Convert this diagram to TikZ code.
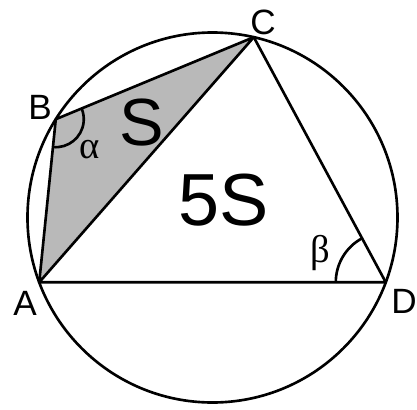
\documentclass[tikz,border=0pt]{standalone}
\usepackage{fontspec}
\setsansfont{Liberation Sans}
\newfontfamily\greekfont{Liberation Serif}
\usetikzlibrary{calc, angles}

\begin{document}
\begin{tikzpicture}[x=0.02cm, y=0.02cm,
  edge/.style={line width=1.5pt, line join=round},
  vlabel/.style={font=\fontsize{20}{20}\sffamily, inner sep=0pt},
  arealabel/.style={font=\fontsize{38}{38}\sffamily, inner sep=0pt},
  anglabel/.style={font=\fontsize{22}{22}\greekfont, inner sep=0pt},
  >=latex
]
  \useasboundingbox (-212.5,-192.5) rectangle (204.5,217.5);

  % Points on the circle
  \coordinate (O) at (0,0);
  \coordinate (A) at (200.5:185);
  \coordinate (B) at (147.9:185);
  \coordinate (C) at (77.1:185);
  \coordinate (D) at (-20.5:185);

  % Shaded triangle
  \fill[gray!55] (A) -- (B) -- (C) -- cycle;

  % Circle and chords
  \draw[edge] (O) circle (185);
  \draw[edge] (A) -- (B) -- (C) -- cycle;
  \draw[edge] (C) -- (D) -- (A);

  % Angles
  \pic[draw, line width=1.5pt, angle radius=0.56cm] {angle=A--B--C};
  \pic[draw, line width=1.5pt, angle radius=1cm] {angle=C--D--A};

  % Labels
  \node[vlabel] (labA) at (-187.5,-85.5) {A};
  \node[vlabel] (labB) at (-172.5,110.5) {B};
  \node[vlabel] (labC) at (50.5,195.5) {C};
  \node[vlabel] (labD) at (191.5,-83.5) {D};
  \node[arealabel] (labS) at (-70.5,94.5) {S};
  \node[arealabel, font=\fontsize{42}{42}\sffamily] (lab5S) at (11.5,17.5) {5S};
  \node[anglabel] (labAlpha) at (-122.5,67.5) {α};
  \node[anglabel] (labBeta) at (107.5,-35.5) {β};
\end{tikzpicture}
\end{document}
